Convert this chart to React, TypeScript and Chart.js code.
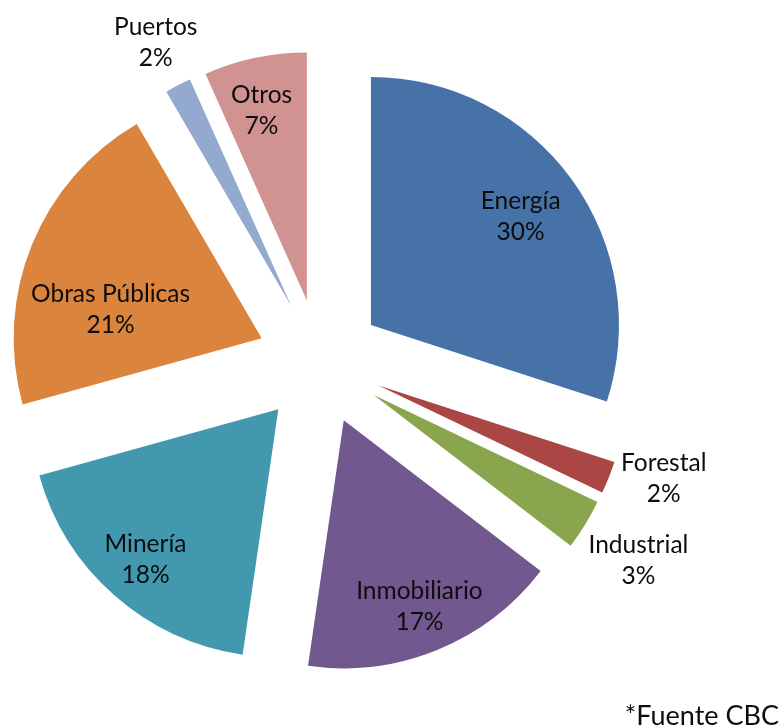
import React, { useEffect, useRef } from "react";
import { Chart, registerables, ArcElement } from "chart.js";

Chart.register(...registerables);

// ---- data ----
const categories = ["Energía", "Forestal", "Industrial", "Inmobiliario", "Minería", "Obras Públicas", "Puertos", "Otros"];
const shares = [30.0, 2.1, 3.3, 16.9, 18.4, 20.9, 1.7, 6.7];
const sliceColors = ["#4672A8", "#AA4643", "#89A54E", "#71588F", "#4198AF", "#DB843D", "#93A9CF", "#D19392"];
const sourceNote = "*Fuente CBC";

// ---- style ----
const EXPLODE = 63; // px every slice is pulled out from the centre
const PIE_RADIUS = 248;
const FONT = "Lato, 'Open Sans', sans-serif";
// label placement: [distance from slice tip as fraction of radius, angle nudge (deg)]
const labelPlacement: [number, number][] = [
  [0.746, 0],
  [1.21, -3.7],
  [1.26, 0.6],
  [0.81, 0],
  [0.81, 0],
  [0.62, -11.5],
  [1.196, 0],
  [0.785, -1.4],
];

// Excel-style explosion: translate slice by its offset without enlarging it.
const proto: any = ArcElement.prototype;
if (!proto.__flatExplode) {
  proto.__flatExplode = true;
  const baseDraw = proto.draw;
  proto.draw = function (ctx: CanvasRenderingContext2D, area: any) {
    const el: any = this;
    const off = (el.options && el.options.offset) || 0;
    if (!off) return baseDraw.call(this, ctx, area);
    const saved = el.options;
    const mid = (el.startAngle + el.endAngle) / 2;
    el.options = Object.assign({}, saved, { offset: 0 });
    ctx.save();
    ctx.translate(Math.cos(mid) * off, Math.sin(mid) * off);
    baseDraw.call(this, ctx, area);
    ctx.restore();
    el.options = saved;
  };
}

const labelPlugin = {
  id: "sliceLabels",
  afterDatasetsDraw(chart: any) {
    const meta = chart.getDatasetMeta(0);
    const data: number[] = chart.data.datasets[0].data;
    const total = data.reduce((a, b) => a + b, 0);
    const ctx: CanvasRenderingContext2D = chart.ctx;
    ctx.save();
    ctx.fillStyle = "#0d0d0d";
    ctx.font = `24.5px ${FONT}`;
    ctx.textAlign = "center";
    ctx.textBaseline = "middle";
    meta.data.forEach((arc: any, i: number) => {
      const { x, y, startAngle, endAngle, outerRadius } = arc;
      const off = (arc.options && arc.options.offset) || 0;
      const [f, nudge] = labelPlacement[i];
      const mid = (startAngle + endAngle) / 2;
      const tipX = x + Math.cos(mid) * off;
      const tipY = y + Math.sin(mid) * off;
      const a = mid + (nudge * Math.PI) / 180;
      const cx = tipX + Math.cos(a) * f * outerRadius;
      const cy = tipY + Math.sin(a) * f * outerRadius;
      const pct = Math.round((data[i] / total) * 100) + "%";
      ctx.fillText(chart.data.labels[i], cx, cy - 15.5);
      ctx.fillText(pct, cx, cy + 15.5);
    });
    ctx.restore();
  },
  afterDraw(chart: any) {
    const ctx: CanvasRenderingContext2D = chart.ctx;
    ctx.save();
    ctx.fillStyle = "#0d0d0d";
    ctx.font = `27px ${FONT}`;
    ctx.textAlign = "right";
    ctx.textBaseline = "alphabetic";
    ctx.fillText(sourceNote, chart.width - 5, chart.height - 3);
    ctx.restore();
  },
};

export default function App() {
  const ref = useRef<HTMLCanvasElement | null>(null);
  useEffect(() => {
    if (!ref.current) return;
    const chart = new Chart(ref.current, {
      type: "pie",
      data: {
        labels: categories,
        datasets: [
          {
            data: shares,
            backgroundColor: sliceColors,
            borderWidth: 0,
            offset: EXPLODE,
            hoverOffset: EXPLODE,
          } as any,
        ],
      },
      options: {
        responsive: false,
        animation: false,
        events: [],
        radius: PIE_RADIUS,
        layout: { padding: { left: 0, right: 144, top: 0, bottom: 4 } },
        plugins: {
          legend: { display: false },
          tooltip: { enabled: false },
        },
      } as any,
      plugins: [labelPlugin],
    });
    return () => chart.destroy();
  }, []);
  return (
    <div style={{ position: "absolute", left: 0, top: 0, width: 784, height: 728, background: "#fff" }}>
      <canvas ref={ref} width={784} height={728} style={{ display: "block" }} />
    </div>
  );
}
